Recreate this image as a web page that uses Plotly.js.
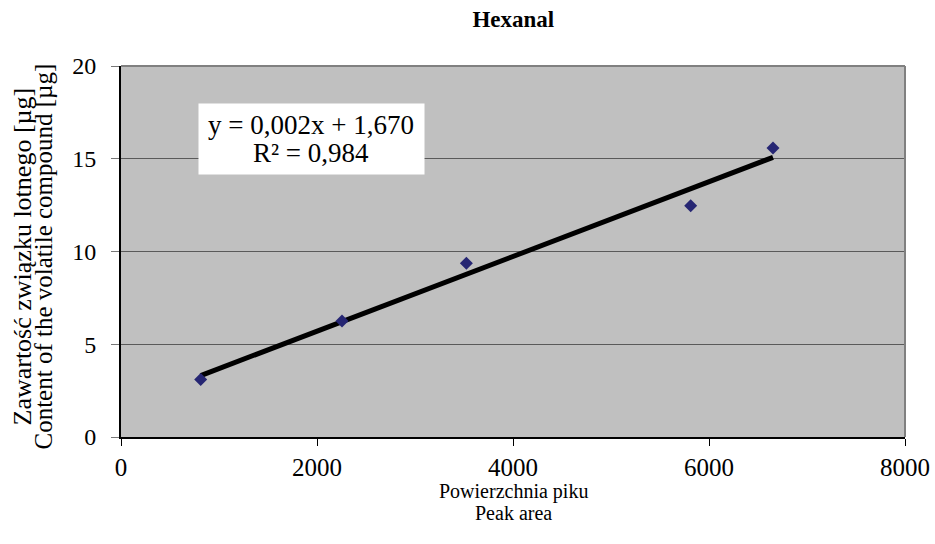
<!DOCTYPE html>
<html>
<head>
<meta charset="utf-8">
<script src="https://cdn.plot.ly/plotly-3.0.1.min.js"></script>
<style>html,body{margin:0;padding:0;background:#fff;}#chart{width:935px;height:544px;}</style>
</head>
<body>
<div id="chart"></div>
<script>
const chartTitle = "Hexanal";
const peakArea = [813, 2255, 3524, 5813, 6653];
const content = [3.10, 6.26, 9.36, 12.47, 15.58];
const xTitleLines = ["Powierzchnia piku", "Peak area"];
const yTitleLines = ["Zawartość związku lotnego [µg]", "Content of the volatile compound [µg]"];
const equationText = ["y = 0,002x + 1,670", "R² = 0,984"];
const xTickVals = [0, 2000, 4000, 6000, 8000];
const yTickVals = [0, 5, 10, 15, 20];

// least squares trendline from the data
const n = peakArea.length;
const mx = peakArea.reduce((a, b) => a + b, 0) / n;
const my = content.reduce((a, b) => a + b, 0) / n;
let sxy = 0, sxx = 0;
for (let i = 0; i < n; i++) { sxy += (peakArea[i] - mx) * (content[i] - my); sxx += (peakArea[i] - mx) ** 2; }
const slope = sxy / sxx, intercept = my - slope * mx;
const xMin = Math.min(...peakArea), xMax = Math.max(...peakArea);
const trendX = [xMin, xMax];
const trendY = trendX.map(x => intercept + slope * x);

const FONT = "Liberation Serif, Times New Roman, serif";

const traces = [
  { x: trendX, y: trendY, mode: "lines", line: { color: "#000", width: 5 }, hoverinfo: "skip" },
  { x: peakArea, y: content, mode: "markers", marker: { symbol: "diamond", size: 10, color: "#262673" } }
];

const boxX = 1941, boxY = 16.07;

const layout = {
  width: 935, height: 544,
  margin: { l: 121, r: 30, t: 66, b: 107 },
  paper_bgcolor: "#fff", plot_bgcolor: "#C0C0C0",
  showlegend: false,
  font: { family: FONT, color: "#000" },
  title: { text: "<b>" + chartTitle + "</b>", font: { family: FONT, size: 23, color: "#000" }, x: 0.549, xanchor: "center", y: 0.965, yanchor: "middle" },
  xaxis: {
    range: [0, 8000], tickvals: xTickVals, ticktext: xTickVals.map(String),
    showgrid: false, zeroline: false, showline: true, linecolor: "#000", linewidth: 2,
    ticks: "outside", ticklen: 7, tickcolor: "#000", tickwidth: 1,
    tickfont: { family: FONT, size: 25, color: "#000" }, ticklabelstandoff: 0
  },
  yaxis: {
    range: [0, 20], tickvals: yTickVals, ticktext: yTickVals.map(String),
    showgrid: true, gridcolor: "#5a5a5a", gridwidth: 1, zeroline: false,
    showline: true, linecolor: "#000", linewidth: 2,
    ticks: "outside", ticklen: 8, tickcolor: "#777", tickwidth: 1,
    tickfont: { family: FONT, size: 24, color: "#000" }, ticklabelstandoff: 10
  },
  shapes: [
    { type: "line", xref: "paper", yref: "paper", x0: 0, x1: 1, y0: 1, y1: 1, line: { color: "#808080", width: 2 } },
    { type: "line", xref: "paper", yref: "paper", x0: 1, x1: 1, y0: 0, y1: 1, line: { color: "#808080", width: 2 } }
  ],
  annotations: [
    { xref: "paper", yref: "paper", x: 0.5, y: 0, yshift: -54, text: xTitleLines[0], showarrow: false, font: { family: FONT, size: 20 }, yanchor: "middle" },
    { xref: "paper", yref: "paper", x: 0.5, y: 0, yshift: -76, text: xTitleLines[1], showarrow: false, font: { family: FONT, size: 20 }, yanchor: "middle" },
    { xref: "paper", yref: "paper", x: 0, xshift: -99, y: 0.5, yshift: -5, text: yTitleLines[0], showarrow: false, textangle: -90, font: { family: FONT, size: 26 }, xanchor: "center" },
    { xref: "paper", yref: "paper", x: 0, xshift: -78, y: 0.5, yshift: -5, text: yTitleLines[1], showarrow: false, textangle: -90, font: { family: FONT, size: 25 }, xanchor: "center" },
    { xref: "x", yref: "y", x: boxX, y: boxY, text: " ", showarrow: false, bgcolor: "#fff", borderpad: 0, width: 225, height: 70, font: { family: FONT, size: 10 } },
    { xref: "x", yref: "y", x: boxX, y: boxY, yshift: 14, text: equationText[0], showarrow: false, font: { family: FONT, size: 27 }, yanchor: "middle" },
    { xref: "x", yref: "y", x: boxX, y: boxY, yshift: -14, text: equationText[1], showarrow: false, font: { family: FONT, size: 27 }, yanchor: "middle" }
  ]
};

Plotly.newPlot("chart", traces, layout, { displayModeBar: false, staticPlot: true });
</script>
</body>
</html>
